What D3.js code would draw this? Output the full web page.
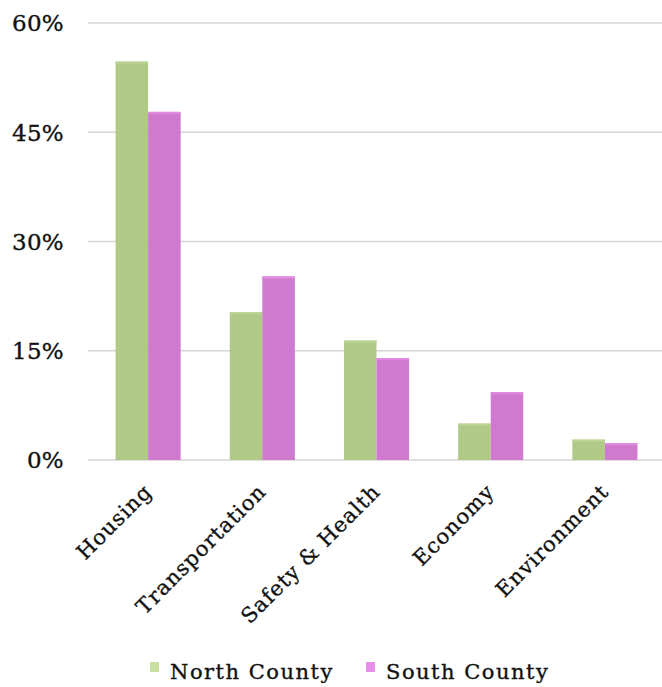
<!DOCTYPE html>
<html>
<head>
<meta charset="utf-8">
<script src="https://cdn.jsdelivr.net/npm/d3@7"></script>
<style>
  body { margin: 0; background: #fff; }
  svg text { font-family: "DejaVu Serif", "Liberation Serif", serif; fill: #111; stroke: #111; stroke-width: 0.35px; }
</style>
</head>
<body>
<div id="chart"></div>
<script>
// chart values
const categories = ["Housing", "Transportation", "Safety & Health", "Economy", "Environment"];
const seriesNames = ["North County", "South County"];
const northCounty = [54.7, 20.3, 16.4, 5.0, 2.8];
const southCounty = [47.8, 25.2, 14.0, 9.3, 2.3];
const yTicks = [0, 15, 30, 45, 60];

const barColors = ["#b1c987", "#cf7acf"];
const barTopColors = ["#bcd495", "#e08ae0"];
const swatchColors = ["#c9e0a2", "#e78ee6"];

const width = 662, height = 687;
const margin = {top: 23, right: 0, bottom: 227, left: 91};

const svg = d3.select("#chart").append("svg")
  .attr("width", width)
  .attr("height", height);

const x = d3.scaleBand()
  .domain(categories)
  .range([margin.left, width - margin.right])
  .paddingInner(0.43)
  .paddingOuter(0.215);

const xSub = d3.scaleBand()
  .domain(seriesNames)
  .range([0, x.bandwidth()]);

const y = d3.scaleLinear()
  .domain([0, 60])
  .range([height - margin.bottom, margin.top]);

// gridlines
svg.append("g")
  .selectAll("line")
  .data(yTicks)
  .join("line")
    .attr("x1", margin.left - 3)
    .attr("x2", width)
    .attr("y1", d => y(d))
    .attr("y2", d => y(d))
    .attr("stroke", "#d6d6d6")
    .attr("stroke-width", 1.5);

// y labels
svg.append("g")
  .selectAll("text")
  .data(yTicks)
  .join("text")
    .attr("x", 64)
    .attr("y", d => y(d))
    .attr("dy", "0.36em")
    .attr("text-anchor", "end")
    .style("font-size", "23px")
    .style("letter-spacing", "0.3px")
    .text(d => d + "%");

const rows = categories.map((c, i) => ({cat: c, values: [northCounty[i], southCounty[i]]}));

const groups = svg.append("g")
  .selectAll("g")
  .data(rows)
  .join("g")
    .attr("transform", d => "translate(" + x(d.cat) + ",0)");

const bars = groups.selectAll("g")
  .data(d => d.values.map((v, j) => ({name: seriesNames[j], value: v, j: j})))
  .join("g");

bars.append("rect")
  .attr("x", d => xSub(d.name))
  .attr("width", xSub.bandwidth())
  .attr("y", d => y(d.value))
  .attr("height", d => y(0) - y(d.value))
  .attr("fill", d => barColors[d.j]);

// slightly lighter top edge like the original
bars.append("rect")
  .attr("x", d => xSub(d.name))
  .attr("width", xSub.bandwidth())
  .attr("y", d => y(d.value))
  .attr("height", 2)
  .attr("fill", d => barTopColors[d.j]);

// x labels, rotated
svg.append("g")
  .selectAll("text")
  .data(categories)
  .join("text")
    .attr("transform", d => "translate(" + (x(d) + x.bandwidth() / 2 + 5) + "," + (y(0) + 33) + ") rotate(-45)")
    .attr("text-anchor", "end")
    .style("font-size", "21px")
    .style("letter-spacing", "1px")
    .text(d => d);

// legend
const legendX = [150, 366];
const legend = svg.append("g")
  .selectAll("g")
  .data(seriesNames)
  .join("g")
    .attr("transform", (d, i) => "translate(" + legendX[i] + ",662)");

legend.append("rect")
  .attr("width", 9)
  .attr("height", 10)
  .attr("fill", (d, i) => swatchColors[i]);

legend.append("text")
  .attr("x", 20)
  .attr("y", 17)
  .style("font-size", "21px")
  .style("letter-spacing", "1.5px")
  .text(d => d);
</script>
</body>
</html>
